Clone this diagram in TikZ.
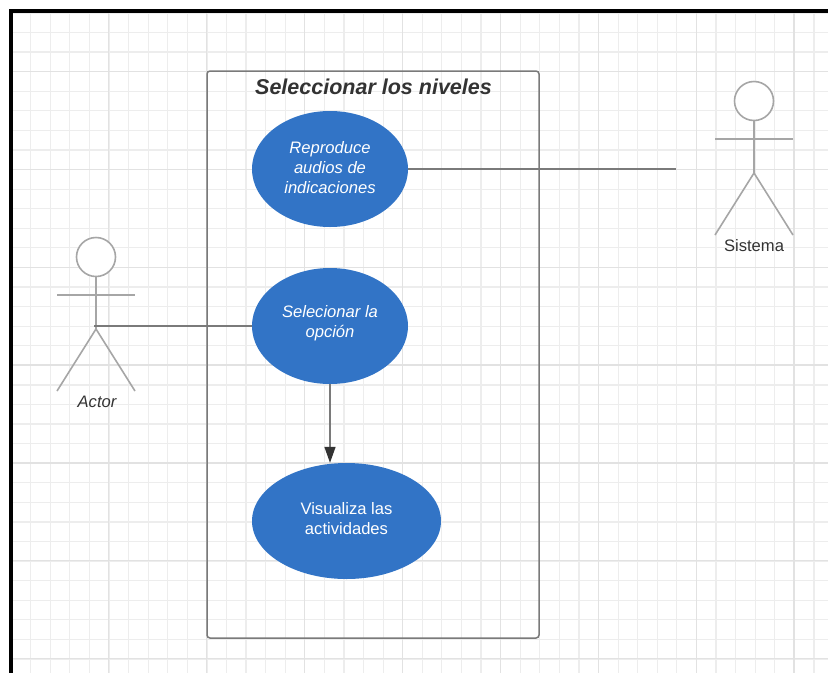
\documentclass[tikz,border=0pt]{standalone}
\usepackage{fontspec}
\setmainfont{Liberation Sans}
\usetikzlibrary{shapes.geometric,arrows.meta}
\definecolor{ucblue}{HTML}{3274C6}
\definecolor{gridminor}{HTML}{EDEDED}
\definecolor{gridmajor}{HTML}{E2E2E2}
\definecolor{stroke}{HTML}{7A7A7A}
\definecolor{stickgray}{HTML}{A6A6A6}
\definecolor{ink}{HTML}{333333}
\tikzset{
  usecase/.style={ellipse,fill=ucblue,draw=none,inner sep=0pt},
  uctext/.style={inner sep=0pt,text=white,align=center,font=\fontsize{16.6}{20}\selectfont\itshape},
  uctextplain/.style={uctext,font=\fontsize{16.6}{19.5}\selectfont},
  link/.style={draw=stroke,line width=1.5pt},
  stick/.style={draw=stickgray,line width=1.6pt},
  label/.style={inner sep=0pt,text=ink,font=\fontsize{16.6}{20}\selectfont},
}
\newcommand{\stickman}[2]{%
  \draw[stick,fill=white] (#1,#2) circle[radius=19.5];
  \draw[stick] (#1,#2+19.5) -- (#1,#2+72);
  \draw[stick] (#1-39,#2+38) -- (#1+39,#2+38);
  \draw[stick] (#1-39,#2+134) -- (#1,#2+72) -- (#1+39,#2+134);
}
\begin{document}
\begin{tikzpicture}[x=1pt,y=-1pt]
\useasboundingbox (0,0) rectangle (828,673);
\fill[white] (0,0) rectangle (828,673);
% grid
\foreach \i in {0,...,41}{
  \pgfmathsetmacro{\gx}{30.7+19.58*\i}
  \draw[gridminor,line width=1.2pt] (\gx,12) -- (\gx,673);
}
\foreach \i in {0,...,33}{
  \pgfmathsetmacro{\gy}{12.9+19.58*\i}
  \draw[gridminor,line width=1.2pt] (13,\gy) -- (828,\gy);
}
\foreach \i in {0,...,7}{
  \pgfmathsetmacro{\gx}{108.7+97.9*\i}
  \draw[gridmajor,line width=1.2pt] (\gx,12) -- (\gx,673);
}
\foreach \i in {0,...,6}{
  \pgfmathsetmacro{\gy}{71.3+97.9*\i}
  \draw[gridmajor,line width=1.2pt] (13,\gy) -- (828,\gy);
}
% frame
\fill[black] (9,9) rectangle (828,12.5);
\fill[black] (9,9) rectangle (13,673);
% system box
\node[draw=stroke,line width=1.5pt,rounded corners=3pt,minimum width=332pt,minimum height=567pt,inner sep=0pt] (box) at (373,354.5) {};
\node[inner sep=0pt,text=ink,font=\fontsize{21.5}{24}\selectfont\bfseries\itshape] (title) at (373.5,87) {Seleccionar los niveles};
% actors
\stickman{96}{257}
\stickman{754}{101}
\coordinate (actorhip) at (94,326);
\coordinate (sistemaend) at (676,169);
\node[label,font=\fontsize{16.6}{20}\selectfont\itshape] (actorlabel) at (97,402) {Actor};
\node[label] (sistemalabel) at (754,245.5) {Sistema};
% use cases
\node[usecase,minimum width=156pt,minimum height=116pt] (repro) at (330,169) {};
\node[usecase,minimum width=156pt,minimum height=116pt] (sel) at (330,326) {};
\node[usecase,minimum width=189pt,minimum height=116pt] (vis) at (346.5,521) {};
\node[uctext] (reprotext) at (330,167.5) {Reproduce\\audios de\\indicaciones};
\node[uctext] (seltext) at (330,323.5) {Selecionar la\\opción};
\node[uctextplain] (vistext) at (346.5,518.5) {Visualiza las\\actividades};
% connectors
\draw[link] (repro.east) -- (sistemaend);
\draw[link] (actorhip) -- (sel.west);
\draw[link,-{Triangle[length=16pt,width=11pt,color=ink,fill=ink]}] (sel.south) -- (sel.south |- vis.north);
\end{tikzpicture}
\end{document}
